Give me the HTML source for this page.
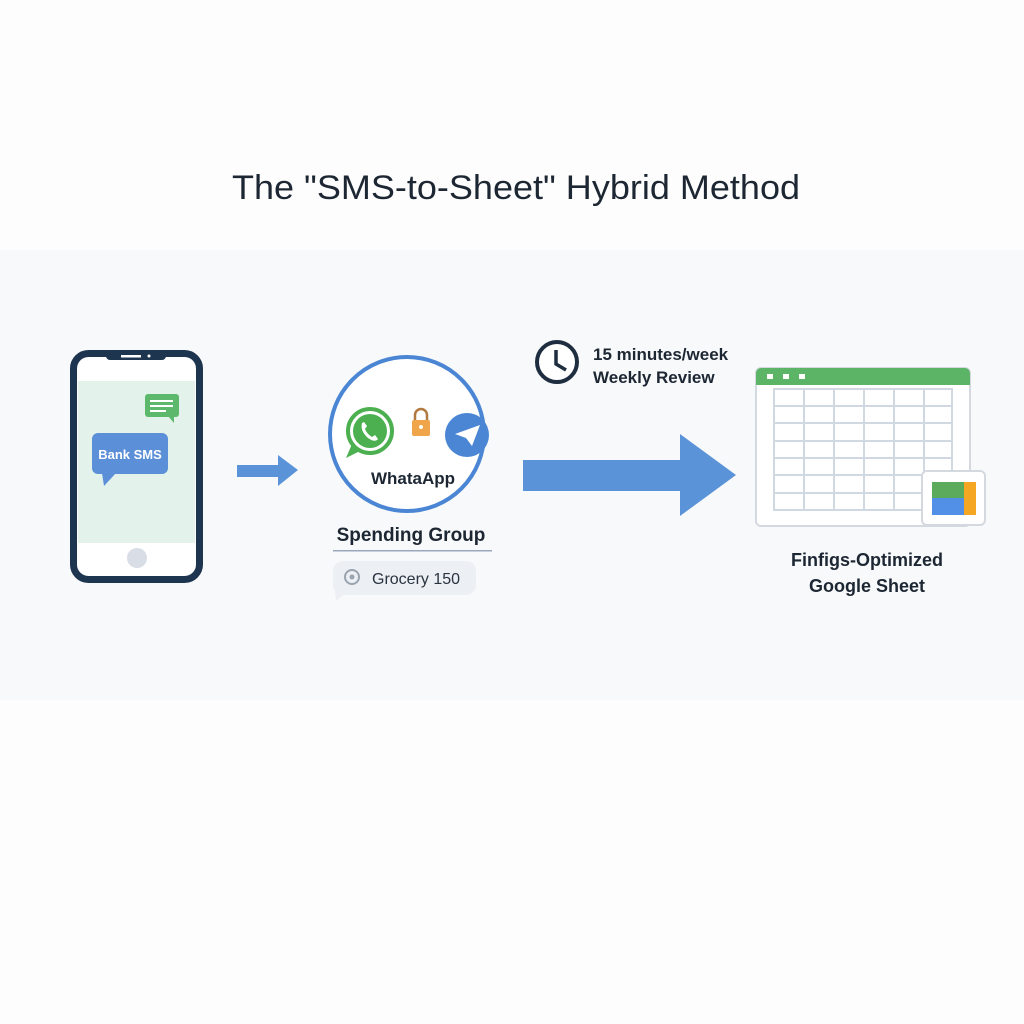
<!DOCTYPE html>
<html><head><meta charset="utf-8"><style>
html,body{margin:0;padding:0;background:#fdfdfd;}
svg{display:block;font-family:"Liberation Sans",sans-serif;}
</style></head><body>
<svg width="1024" height="1024" viewBox="0 0 1024 1024">
<rect width="1024" height="1024" fill="#fdfdfd"/>
<rect x="0" y="250" width="1024" height="450" fill="#f8f9fa"/>
<text x="516" y="199" text-anchor="middle" font-size="34" fill="#1d2733" textLength="568" lengthAdjust="spacingAndGlyphs">The "SMS-to-Sheet" Hybrid Method</text>

<!-- phone -->
<rect x="73.5" y="353.5" width="126" height="226" rx="15" fill="#fff" stroke="#1e3550" stroke-width="7"/>
<rect x="78" y="381" width="117" height="162" fill="#e3f2ea"/>
<rect x="106" y="350" width="60" height="10" rx="4" fill="#1e3550"/>
<rect x="121" y="355" width="20" height="2.5" fill="#fff"/>
<circle cx="149" cy="356" r="1.5" fill="#fff"/>
<circle cx="137" cy="558" r="10" fill="#d9dde6"/>
<rect x="145" y="394" width="34" height="23" rx="3" fill="#5cb86b"/>
<path d="M168 416 L174 423 L174 416Z" fill="#5cb86b"/>
<rect x="150" y="400" width="23" height="2" fill="#fff"/><rect x="150" y="405" width="23" height="2" fill="#fff"/><rect x="150" y="410" width="16" height="2" fill="#fff"/>
<rect x="92" y="433" width="76" height="41" rx="6" fill="#5b8fd8"/>
<path d="M102 473 L104 486 L116 473Z" fill="#5b8fd8"/>
<text x="130" y="459" text-anchor="middle" font-size="13" font-weight="bold" fill="#fff">Bank SMS</text>

<!-- small arrow -->
<path d="M237 465 H278 V455 L298 470 L278 486 V477 H237Z" fill="#5b93d8"/>

<!-- circle -->
<circle cx="407" cy="434" r="77" fill="#fff" stroke="#4a86d4" stroke-width="4"/>
<circle cx="370" cy="431" r="22" fill="#fff" stroke="#4caf50" stroke-width="4"/>
<path d="M352 444 L346 458 L360 451Z" fill="#4caf50"/>
<circle cx="370" cy="431" r="17" fill="#4caf50"/>
<path d="M362 423 q-2 8 6 15 q7 5 10 1 l-3 -4 l-3 2 q-5 -3 -7 -8 l2 -3 l-3 -4z" fill="#fff"/>
<path d="M415 421 v-6 a6 6 0 0 1 12 0 v6" fill="none" stroke="#b07a40" stroke-width="2.5"/>
<rect x="412" y="420" width="18" height="16" rx="2" fill="#f0a54a"/>
<circle cx="421" cy="427" r="2" fill="#fff"/>
<circle cx="467" cy="435" r="22" fill="#4a86d4"/>
<path d="M455 434 L480 425 L472 446 L466 438Z" fill="#fff"/>
<text x="413" y="484" text-anchor="middle" font-size="17" font-weight="bold" fill="#1d2733">WhataApp</text>

<text x="411" y="541" text-anchor="middle" font-size="19" font-weight="bold" fill="#1d2733">Spending Group</text>
<rect x="333" y="550" width="159" height="1.5" fill="#9aa8bd"/>
<rect x="333" y="561" width="143" height="34" rx="10" fill="#eceff4"/>
<path d="M335 590 L336 601 L346 593Z" fill="#eceff4"/>
<circle cx="352" cy="577" r="7" fill="none" stroke="#9aa3b0" stroke-width="2"/>
<circle cx="352" cy="577" r="2.5" fill="#9aa3b0"/>
<text x="372" y="584" font-size="16" fill="#2a3340">Grocery 150</text>

<!-- big arrow -->
<path d="M523 460 H680 V434 L736 475 L680 516 V491 H523Z" fill="#5b93d8"/>

<!-- clock -->
<circle cx="557" cy="362" r="20" fill="#fff" stroke="#1e2d40" stroke-width="4"/>
<path d="M556 350 V364 L566 370" fill="none" stroke="#1e2d40" stroke-width="3.5"/>
<text x="593" y="360" font-size="17" font-weight="bold" fill="#1d2733">15 minutes/week</text>
<text x="593" y="383" font-size="17" font-weight="bold" fill="#1d2733">Weekly Review</text>

<!-- sheet -->
<rect x="756" y="368" width="214" height="158" rx="5" fill="#fff" stroke="#d4d9e0" stroke-width="2"/>
<path d="M756 385 V373 a5 5 0 0 1 5 -5 H965 a5 5 0 0 1 5 5 V385Z" fill="#5cb466"/>
<rect x="767" y="374" width="6" height="5" fill="#fff"/><rect x="783" y="374" width="6" height="5" fill="#fff"/><rect x="799" y="374" width="6" height="5" fill="#fff"/>
<g stroke="#d0d8e2" stroke-width="2" fill="none">
<rect x="774" y="389" width="178" height="121"/>
<path d="M804 389V510M834 389V510M864 389V510M894 389V510M924 389V510"/>
<path d="M774 406H952M774 423H952M774 441H952M774 458H952M774 475H952M774 493H952"/>
</g>
<rect x="922" y="471" width="63" height="54" rx="5" fill="#fff" stroke="#d4d9e0" stroke-width="2"/>
<rect x="932" y="482" width="32" height="16" fill="#5caa5c"/>
<rect x="932" y="498" width="32" height="17" fill="#5290e8"/>
<rect x="964" y="482" width="12" height="33" fill="#f5a623"/>
<text x="867" y="566" text-anchor="middle" font-size="18" font-weight="bold" fill="#1d2733">Finfigs-Optimized</text>
<text x="867" y="592" text-anchor="middle" font-size="18" font-weight="bold" fill="#1d2733">Google Sheet</text>
</svg>
</body></html>
